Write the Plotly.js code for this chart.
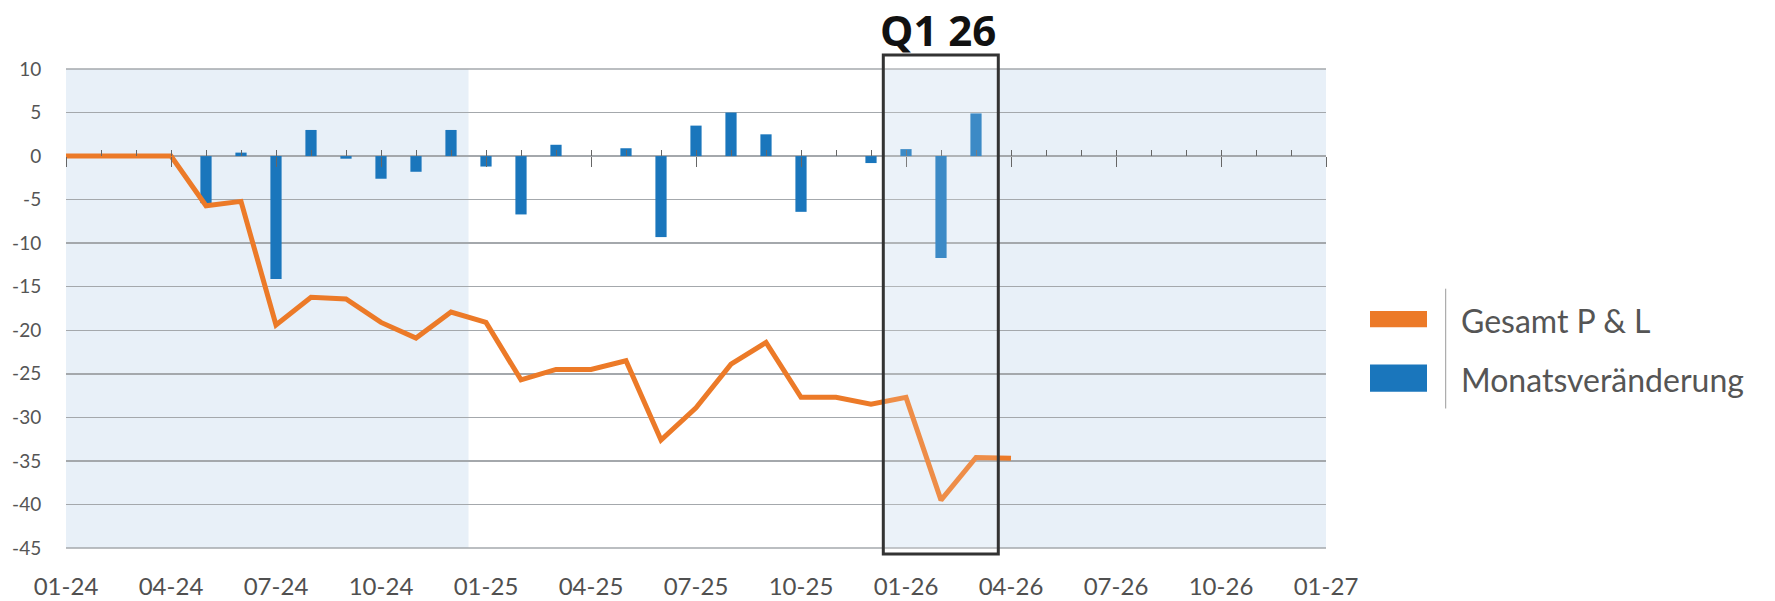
<!DOCTYPE html>
<html>
<head>
<meta charset="utf-8">
<script src="https://cdn.plot.ly/plotly-3.0.1.min.js"></script>
<style>
html,body{margin:0;padding:0;background:#ffffff;}
#chart{width:1775px;height:601px;}
</style>
</head>
<body>
<div id="chart"></div>
<script>
// ---- data ----
const monthIndex = [0,1,2,3,4,5,6,7,8,9,10,11,12,13,14,15,16,17,18,19,20,21,22,23,24,25,26,27];
const gesamtPL = [0,0,0,0,-5.7,-5.2,-19.4,-16.2,-16.4,-19.1,-20.9,-17.9,-19.1,-25.7,-24.5,-24.5,-23.5,-32.6,-28.9,-23.9,-21.4,-27.7,-27.7,-28.5,-27.7,-39.5,-34.6,-34.7];
const monatsVeraenderung = [null,null,null,null,-5.4,0.4,-14.1,3.0,-0.3,-2.6,-1.8,3.0,-1.2,-6.7,1.3,null,0.9,-9.3,3.5,5.0,2.5,-6.4,null,-0.8,0.8,-11.7,4.9,null];
const quarterPositions = [0,3,6,9,12,15,18,21,24,27,30,33,36];
const quarterLabels = ["01-24","04-24","07-24","10-24","01-25","04-25","07-25","10-25","01-26","04-26","07-26","10-26","01-27"];
const yTicks = [-45,-40,-35,-30,-25,-20,-15,-10,-5,0,5,10];
const seriesNames = ["Gesamt P & L","Monatsveränderung"];
const highlightLabel = "Q1 26";
const shadedSpans = [[0,11.5],[23.35,36]];

// ---- styles ----
const ORANGE = '#ec7a28';
const BLUE = '#1a76bc';
const SHADE = '#e8f0f8';
const GRID = '#a4a8ac';
const TEXT = '#555555';
const yMin = yTicks[0], yMax = yTicks[yTicks.length-1];
const xMin = quarterPositions[0], xMax = quarterPositions[quarterPositions.length-1];
const zeroPos = (0 - yMin) / (yMax - yMin);

// pixel -> paper helpers for decorations outside the plot area
const PL = 66, PW = 1260, PT = 69, PB = 548, PH = PB - PT;
const X = px => (px - PL) / PW;
const Y = py => (PB - py) / PH;

const traces = [
  {
    type: 'bar', name: seriesNames[1], x: monthIndex, y: monatsVeraenderung,
    xaxis: 'x', yaxis: 'y', width: 0.32,
    marker: {color: BLUE}, showlegend: false, hoverinfo: 'x+y'
  },
  {
    type: 'scatter', mode: 'markers', x: [xMin], y: [0], xaxis: 'x2', yaxis: 'y',
    marker: {opacity: 0}, showlegend: false, hoverinfo: 'skip'
  },
  {
    type: 'scatter', mode: 'lines', name: seriesNames[0], x: monthIndex, y: gesamtPL,
    xaxis: 'x3', yaxis: 'y',
    line: {color: ORANGE, width: 5, shape: 'linear'}, showlegend: false
  }
];

const shapes = shadedSpans.map(s => ({
  type: 'rect', xref: 'x', yref: 'y', x0: s[0], x1: s[1], y0: yMin, y1: yMax,
  fillcolor: SHADE, line: {width: 0}, layer: 'below'
}));
// gridlines at the top and bottom edge of the value range (Plotly skips grid lines on the plot edge)
[0, 1].forEach(p => shapes.push({
  type: 'line', xref: 'paper', yref: 'paper', x0: 0, x1: 1, y0: p, y1: p,
  line: {color: GRID, width: 1.5}, layer: 'above'
}));
// highlight box
shapes.push({
  type: 'rect', xref: 'paper', yref: 'paper',
  x0: X(883.3), x1: X(998.3), y0: Y(554), y1: Y(55),
  fillcolor: 'rgba(255,255,255,0.15)', line: {color: '#333333', width: 3}, layer: 'above'
});
// legend swatches + separator
shapes.push({type:'rect', xref:'paper', yref:'paper', x0:X(1370), x1:X(1427), y0:Y(327.3), y1:Y(311), fillcolor: ORANGE, line:{width:0}});
shapes.push({type:'rect', xref:'paper', yref:'paper', x0:X(1370), x1:X(1427), y0:Y(391.7), y1:Y(364.5), fillcolor: BLUE, line:{width:0}});
shapes.push({type:'line', xref:'paper', yref:'paper', x0:X(1445.7), x1:X(1445.7), y0:Y(408.5), y1:Y(288.7), line:{color:'#9a9a9a', width:1}});

const annotations = [
  {xref:'paper', yref:'paper', x: X(937.7), y: Y(29), text: '<b>' + highlightLabel + '</b>',
   showarrow:false, xanchor:'center', yanchor:'middle',
   font:{family:'Open Sans, sans-serif', size:42, color:'#111111'}},
  {xref:'paper', yref:'paper', x: X(1459), y: Y(320), text: seriesNames[0],
   showarrow:false, xanchor:'left', yanchor:'middle',
   font:{family:'Lato, sans-serif', size:32, color:TEXT}},
  {xref:'paper', yref:'paper', x: X(1459), y: Y(380), text: seriesNames[1],
   showarrow:false, xanchor:'left', yanchor:'middle',
   font:{family:'Lato, sans-serif', size:32, color:TEXT}}
];

const layout = {
  width: 1775, height: 601,
  margin: {l: PL, r: 1775 - PL - PW, t: PT, b: 601 - PB, pad: 0},
  paper_bgcolor: '#ffffff', plot_bgcolor: 'rgba(0,0,0,0)',
  showlegend: false, barmode: 'overlay',
  font: {family: 'Lato, sans-serif', color: TEXT},
  xaxis: {
    range: [xMin, xMax], tickmode: 'array', tickvals: quarterPositions, ticktext: quarterLabels,
    showgrid: false, zeroline: false, showline: false,
    ticks: 'outside', ticklen: 17, tickcolor: 'rgba(0,0,0,0)',
    tickfont: {family: 'Lato, sans-serif', size: 24, color: '#505050'}
  },
  xaxis2: {
    overlaying: 'x', matches: 'x', range: [xMin, xMax], anchor: 'free', position: zeroPos, side: 'bottom',
    tickmode: 'linear', tick0: 0, dtick: 1, ticks: 'inside', ticklen: 6, tickwidth: 1, tickcolor: '#666666',
    showticklabels: false, showgrid: false, zeroline: false, showline: false
  },
  xaxis3: {
    overlaying: 'x', matches: 'x', range: [xMin, xMax], anchor: 'free', position: zeroPos, side: 'bottom',
    tickmode: 'linear', tick0: 0, dtick: 3, ticks: 'outside', ticklen: 10, tickwidth: 1, tickcolor: '#666666',
    showticklabels: false, showgrid: false, zeroline: false, showline: false
  },
  yaxis: {
    range: [yMin, yMax], tickmode: 'array', tickvals: yTicks, ticktext: yTicks.map(String),
    showgrid: true, gridcolor: GRID, gridwidth: 1.5, zeroline: false, showline: false,
    ticks: 'outside', ticklen: 20, tickcolor: 'rgba(0,0,0,0)',
    tickfont: {family: 'Lato, sans-serif', size: 19, color: TEXT}
  },
  shapes: shapes,
  annotations: annotations
};

Plotly.newPlot('chart', traces, layout, {staticPlot: true, displayModeBar: false});
</script>
</body>
</html>
